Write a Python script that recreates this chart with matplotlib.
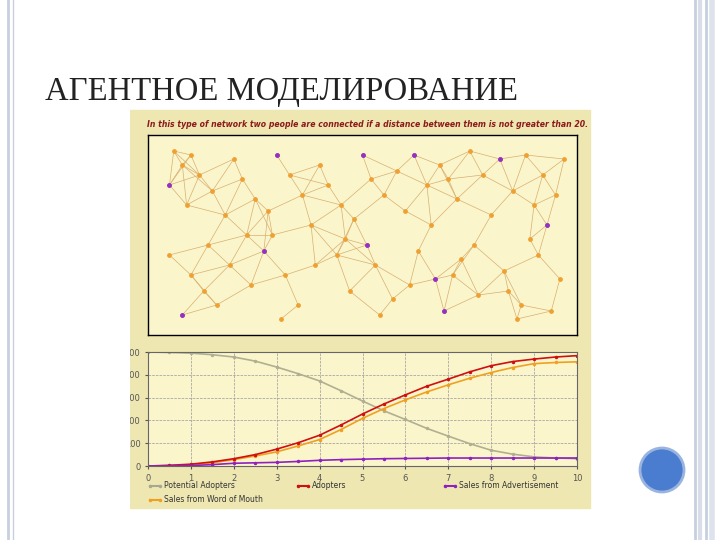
import matplotlib
matplotlib.use("Agg")
import matplotlib.pyplot as plt
import numpy as np
from matplotlib.patches import Rectangle, Circle

t = [0,0.5,1,1.5,2,2.5,3,3.5,4,4.5,5,5.5,6,6.5,7,7.5,8,8.5,9,9.5,10]
potential = [500,498,495,488,478,460,434,405,373,330,285,242,204,165,131,98,69,52,40,35,32]
adopters  = [0,3,8,18,32,50,74,102,135,180,228,272,312,350,381,413,440,458,469,478,484]
word_mouth= [0,2,5,14,28,44,62,88,116,160,209,252,290,325,356,385,410,432,449,454,457]
advert    = [0,1,2,6,12,14,16,20,25,28,30,32,33,34,35,35,35,35,35,35,35]
x_ticks = list(range(11))
y_ticks = [0,100,200,300,400,500]
title = "АГЕНТНОЕ МОДЕЛИРОВАНИЕ"
net_caption = "In this type of network two people are connected if a distance between them is not greater than 20."
legend_labels = ["Potential Adopters","Adopters","Sales from Advertisement","Sales from Word of Mouth"]

node_x = [0.06,0.08,0.10,0.05,0.12,0.09,0.15,0.20,0.22,0.18,0.25,0.30,0.33,0.28,0.36,0.40,0.42,0.38,0.45,0.50,
          0.52,0.48,0.55,0.58,0.62,0.60,0.65,0.68,0.66,0.72,0.75,0.70,0.78,0.82,0.85,0.80,0.88,0.90,0.92,0.95,
          0.93,0.97,0.05,0.10,0.14,0.19,0.24,0.27,0.32,0.35,0.44,0.47,0.53,0.57,0.63,0.67,0.73,0.77,0.83,0.87,
          0.91,0.96,0.08,0.16,0.23,0.31,0.39,0.46,0.54,0.61,0.69,0.76,0.84,0.89,0.94,0.13,0.29,0.51,0.71,0.86]
node_y = [0.92,0.85,0.90,0.75,0.80,0.65,0.72,0.88,0.78,0.60,0.68,0.90,0.80,0.62,0.70,0.85,0.75,0.55,0.65,0.90,
          0.78,0.58,0.70,0.82,0.90,0.62,0.75,0.85,0.55,0.68,0.92,0.78,0.80,0.88,0.72,0.60,0.90,0.65,0.80,0.70,
          0.55,0.88,0.40,0.30,0.45,0.35,0.25,0.42,0.30,0.15,0.40,0.22,0.35,0.18,0.42,0.28,0.38,0.20,0.32,0.15,
          0.40,0.28,0.10,0.15,0.50,0.08,0.35,0.48,0.10,0.25,0.12,0.45,0.22,0.48,0.12,0.22,0.50,0.45,0.30,0.08]
purple_nodes = [3,11,19,24,33,40,47,55,62,70,77]

fig = plt.figure(figsize=(7.2,5.4), dpi=100)
W,H = 720,540
def ax_px(x0,y0,x1,y1):
    return fig.add_axes([x0/W, 1-y1/H, (x1-x0)/W, (y1-y0)/H])

bg = fig.add_axes([0,0,1,1]); bg.set_xlim(0,W); bg.set_ylim(H,0); bg.axis('off')
for x,c,w in [(695,'#c8d0e0',2),(700,'#d8dde8',3),(706,'#c8d0e0',2),(712,'#dde2ec',4)]:
    bg.plot([x,x],[0,H],color=c,lw=w)
bg.add_patch(Rectangle((130,110),460,398,color='#eee7b2',zorder=1))
bg.add_patch(Circle((662,470),22,facecolor='#4a7cd0',edgecolor='#9ab4e0',lw=2,zorder=2))
bg.text(147,127,net_caption,fontsize=5.6,color='#8b1a1a',fontweight='bold',style='italic')
lx=[(150,'#a8a890',0),(298,'#d01010',1),(445,'#9020c0',2),(150,'#f0a020',3)]
ly=[486,486,486,500]
for (x,c,i),y in zip(lx,ly):
    bg.plot([x,x+10],[y,y],color=c,lw=1.5,marker='.',ms=3)
    bg.text(x+14,y,legend_labels[i],fontsize=5.5,color='#333333',va='center')

net = ax_px(148,135,577,335)
net.set_facecolor('#fbf5cc')
nx=np.array(node_x); ny=np.array(node_y)
for i in range(len(nx)):
    for j in range(i+1,len(nx)):
        if np.hypot(nx[i]-nx[j],(ny[i]-ny[j])*0.47) < 0.095:
            net.plot([nx[i],nx[j]],[ny[i],ny[j]],color='#d8b070',lw=0.5,zorder=1)
net.scatter(nx,ny,s=6,color='#f0a030',zorder=2)
net.scatter(nx[purple_nodes],ny[purple_nodes],s=6,color='#9030d0',zorder=3)
net.set_xlim(0,1); net.set_ylim(0,1); net.set_xticks([]); net.set_yticks([])
for s in net.spines.values(): s.set_linewidth(1)

ax = ax_px(148,352,577,466)
ax.set_facecolor('#fbf5cc')
ax.plot(t,potential,color='#b0b090',lw=1.2,marker='.',ms=3)
ax.plot(t,word_mouth,color='#f0a020',lw=1.2,marker='.',ms=3)
ax.plot(t,adopters,color='#d01010',lw=1.2,marker='.',ms=3)
ax.plot(t,advert,color='#9020c0',lw=1.2,marker='.',ms=3)
ax.set_xlim(0,10); ax.set_ylim(0,500)
ax.set_xticks(x_ticks); ax.set_yticks(y_ticks)
ax.tick_params(labelsize=6,length=2,colors='#555555')
ax.grid(True,color='#999999',ls='--',lw=0.5)
for s in ax.spines.values(): s.set_color('#666666')
bg2 = fig.add_axes([0,0,130/W,1],zorder=5); bg2.axis('off')
bg2.add_patch(Rectangle((0,0),1,1,transform=bg2.transAxes,color='white'))
bg2.plot([8/130,8/130],[0,1],color='#c8d0e0',lw=2,transform=bg2.transAxes)
bg2.plot([13/130,13/130],[0,1],color='#c8d0e0',lw=1,transform=bg2.transAxes)
bg2.text(45/130,1-100/H,title,fontsize=23.5,family='Liberation Serif',color='#222222',va='baseline',transform=bg2.transAxes,clip_on=False)
fig.savefig("out.png",dpi=100)
